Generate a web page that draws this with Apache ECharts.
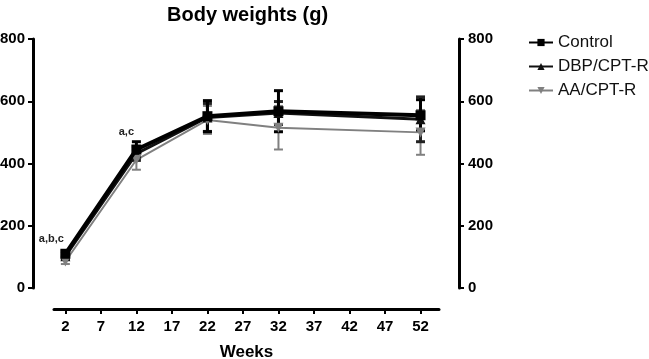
<!DOCTYPE html>
<html>
<head>
<meta charset="utf-8">
<script src="https://cdn.jsdelivr.net/npm/echarts@6/dist/echarts.min.js"></script>
<style>
  html, body { margin: 0; padding: 0; background: #fff; }
  #chart { width: 649px; height: 359px; }
</style>
</head>
<body>
<div id="chart"></div>
<script>
const weeks = [2, 12, 22, 32, 52]
const xTicks = [2, 7, 12, 17, 22, 27, 32, 37, 42, 47, 52]

const controlMean = [110, 445, 552, 568, 555]
const controlErr = [8, 25, 50, 66, 50]
const dbpMean = [102, 432, 548, 562, 542]
const dbpErr = [8, 22, 45, 37, 72]
const aaMean = [85, 412, 540, 515, 500]
const aaErr = [8, 32, 45, 70, 72]

// letters above the first points
const notes = ['a,b,c', 'a,c', '', '', '']

const font = 'Arial, "Liberation Sans", sans-serif'

const chart = echarts.init(document.getElementById('chart'))

function errorSeries(name, mean, err, color, width) {
  return {
    name,
    type: 'custom',
    z: 2,
    itemStyle: { color },
    data: weeks.map((w, i) => [w, mean[i] - err[i], mean[i] + err[i]]),
    renderItem(params, api) {
      const lo = api.coord([api.value(0), api.value(1)])
      const hi = api.coord([api.value(0), api.value(2)])
      const half = 4.5
      const style = { stroke: color, lineWidth: width }
      return {
        type: 'group',
        children: [
          { type: 'line', shape: { x1: hi[0], y1: hi[1], x2: lo[0], y2: lo[1] }, style },
          { type: 'line', shape: { x1: hi[0] - half, y1: hi[1], x2: hi[0] + half, y2: hi[1] }, style },
          { type: 'line', shape: { x1: lo[0] - half, y1: lo[1], x2: lo[0] + half, y2: lo[1] }, style }
        ]
      }
    }
  }
}

function lineSeries(name, mean, color, width, symbol, rotate) {
  return {
    name,
    type: 'line',
    z: 3,
    data: weeks.map((w, i) => [w, mean[i]]),
    symbol,
    symbolSize: 10,
    symbolRotate: rotate || 0,
    lineStyle: { color, width },
    itemStyle: { color },
    emphasis: { disabled: true }
  }
}

const control = lineSeries('Control', controlMean, '#000', 4, 'rect')
control.z = 4
control.data = weeks.map((w, i) => ({
  value: [w, controlMean[i]],
  label: {
    show: notes[i] !== '',
    formatter: notes[i],
    position: 'top',
    offset: i === 0 ? [-14, 1] : [-10, -2],
    color: '#222',
    fontSize: 11,
    fontWeight: 'bold',
    fontFamily: font
  }
}))

const axisText = { color: '#000', fontSize: 15, fontWeight: 'bold', fontFamily: font }

const option = {
  animation: false,
  title: {
    text: 'Body weights (g)',
    left: 162,
    top: 0,
    textStyle: { color: '#000', fontSize: 20, fontWeight: 'bold', fontFamily: font }
  },
  legend: {
    data: ['Control', 'DBP/CPT-R', 'AA/CPT-R'],
    orient: 'vertical',
    left: 523,
    top: 29,
    itemWidth: 24,
    itemHeight: 9,
    itemGap: 7,
    textStyle: { color: '#111', fontSize: 17, fontFamily: font }
  },
  grid: { left: 54, right: 210, top: 39, bottom: 71, outerBoundsMode: 'none' },
  xAxis: {
    type: 'value',
    min: 0.4,
    max: 54.6,
    offset: 21,
    name: 'Weeks',
    nameLocation: 'middle',
    nameGap: 35,
    nameTextStyle: { color: '#000', fontSize: 17, fontWeight: 'bold', fontFamily: font },
    axisLine: { onZero: false, lineStyle: { color: '#000', width: 3 } },
    axisTick: { customValues: xTicks, length: 5, lineStyle: { width: 2, color: '#000' } },
    axisLabel: { customValues: xTicks, margin: 10, ...axisText },
    splitLine: { show: false }
  },
  yAxis: [
    {
      type: 'value',
      position: 'left',
      min: 0,
      max: 800,
      interval: 200,
      offset: 21,
      axisLine: { show: true, onZero: false, lineStyle: { color: '#000', width: 3 } },
      axisTick: { show: true, length: 5, lineStyle: { width: 2, color: '#000' } },
      axisLabel: { margin: 8, ...axisText },
      splitLine: { show: false }
    },
    {
      type: 'value',
      position: 'right',
      min: 0,
      max: 800,
      interval: 200,
      offset: 20,
      axisLine: { show: true, onZero: false, lineStyle: { color: '#000', width: 3 } },
      axisTick: { show: true, length: 5, lineStyle: { width: 2, color: '#000' } },
      axisLabel: { margin: 9, ...axisText },
      splitLine: { show: false }
    }
  ],
  series: [
    control,
    lineSeries('DBP/CPT-R', dbpMean, '#111', 3, 'triangle'),
    lineSeries('AA/CPT-R', aaMean, '#808080', 2, 'triangle', 180),
    errorSeries('AA/CPT-R', aaMean, aaErr, '#808080', 2),
    errorSeries('DBP/CPT-R', dbpMean, dbpErr, '#222', 3),
    errorSeries('Control', controlMean, controlErr, '#000', 3)
  ]
}

chart.setOption(option)
</script>
</body>
</html>
